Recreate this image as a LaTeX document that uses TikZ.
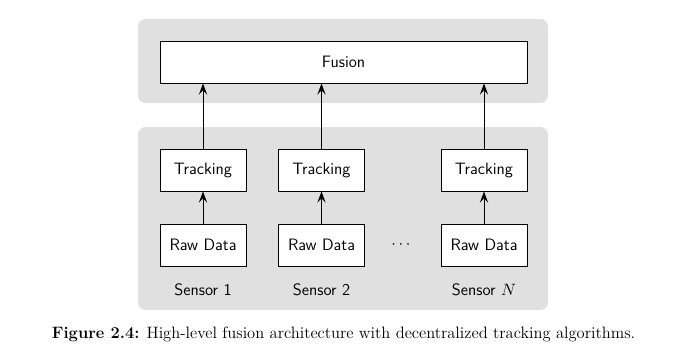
\documentclass[tikz,border=0pt]{standalone}
\usetikzlibrary{arrows.meta}
\definecolor{panelgray}{HTML}{E0E0E0}
\newcommand{\figfont}{\fontsize{11}{13.6}\selectfont}
\tikzset{
  panel/.style={fill=panelgray, draw=none, rounded corners=5pt, inner sep=0pt},
  block/.style={draw=black, fill=white, line width=0.6pt, inner sep=0pt,
    minimum width=57.3pt, minimum height=28pt, font=\figfont\sffamily},
  wide/.style={block, minimum width=244.7pt},
  label/.style={font=\figfont\sffamily, inner sep=0pt},
  flow/.style={-{Stealth[length=7.5pt, width=5.5pt, inset=3pt]}, line width=0.6pt}
}
\begin{document}
\begin{tikzpicture}[x=0.6667pt, y=-0.6667pt]
  \useasboundingbox (0,0) rectangle (680,354);
  % background panels
  \node[panel, minimum width=273.3pt, minimum height=56pt] (top) at (343,61) {};
  \node[panel, minimum width=273.3pt, minimum height=122pt] (bottom) at (343,218.5) {};
  % fusion stage
  \node[wide] (fusion) at (343.5,62) {Fusion};
  % per-sensor tracking
  \node[block] (t1) at (203,170) {Tracking};
  \node[block] (t2) at (321.5,170) {Tracking};
  \node[block] (tn) at (484,170) {Tracking};
  \node[block] (r1) at (203,245) {Raw Data};
  \node[block] (r2) at (321.5,245) {Raw Data};
  \node[block] (rn) at (484,245) {Raw Data};
  \node[inner sep=0pt, font=\figfont] (dots) at (401,245) {$\cdots$};
  \node[label] (s1) at (203,290) {Sensor 1};
  \node[label] (s2) at (321.5,290) {Sensor 2};
  \node[label] (sn) at (484,290) {Sensor $N$};
  % connectors
  \foreach \r/\t in {r1/t1, r2/t2, rn/tn}
    \draw[flow] (\r.north) -- (\t.north |- \t.south);
  \draw[flow] (t1.north) -- (t1.north |- fusion.south);
  \draw[flow] (t2.north) -- (t2.north |- fusion.south);
  \draw[flow] (tn.north) -- (tn.north |- fusion.south);
  % caption
  \node[inner sep=0pt, anchor=base, font=\figfont] (caption) at (343.5,338)
    {\textbf{Figure 2.4:} High-level fusion architecture with decentralized tracking algorithms.};
\end{tikzpicture}
\end{document}
